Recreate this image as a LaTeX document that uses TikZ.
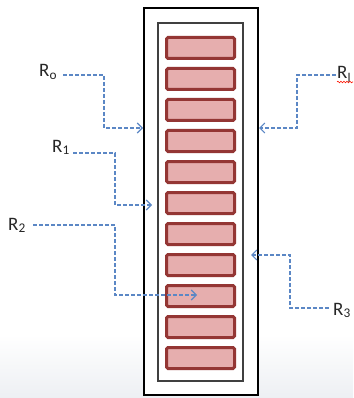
\documentclass[tikz,border=0pt]{standalone}
\usepackage{fontspec}
\setmainfont{Carlito}
\usetikzlibrary{arrows.meta,decorations.pathmorphing}
\definecolor{conncol}{HTML}{5B87C5}
\definecolor{barfill}{HTML}{E6AEAE}
\definecolor{barline}{HTML}{943634}
\definecolor{bandcol}{HTML}{EDEFF3}
\begin{document}
\begin{tikzpicture}[x=1pt,y=-1pt,
  conn/.style={draw=conncol, line width=1.1pt, dash pattern=on 4pt off 2pt,
    -{Straight Barb[length=5pt,width=10pt,line width=1.1pt]}},
  lbl/.style={font=\fontsize{19}{19}\selectfont, inner sep=0pt, text=black!85},
  barbox/.style={draw=barline, fill=barfill, line width=3pt, rounded corners=1.5pt,
    minimum width=68pt, minimum height=21pt, inner sep=0pt},
  outerbox/.style={draw=black, line width=1.2pt, fill=white},
  innerbox/.style={draw=black!75, line width=1.5pt}]
\useasboundingbox (0,0) rectangle (353,398);
% faint background band at the bottom
\shade[top color=white, bottom color=bandcol] (0,335) rectangle (353,398);
% frames
\draw[outerbox] (144,8) rectangle (258,395);
\draw[innerbox] (158,23) rectangle (243,381);
% bars
\foreach \i in {0,...,10}{
  \node[barbox] (b\i) at (200.5,{48+31*\i}) {};
}
% labels
\node[lbl, anchor=base west] (r0) at (39,77) {R\textsubscript{o}};
\node[lbl, anchor=base west] (r1) at (52,152) {R\textsubscript{1}};
\node[lbl, anchor=base west] (r2) at (8,230) {R\textsubscript{2}};
\node[lbl, anchor=base west] (r3) at (333,315) {R\textsubscript{3}};
\node[lbl, anchor=base west] (rl) at (337,79) {R\textsubscript{l}};
\draw[red!85!orange, line width=0.6pt, decorate,
  decoration={snake, amplitude=0.8pt, segment length=3pt}] (337,82) -- (353,82);
% connector start / end points
\coordinate (s0) at (63,75);   \coordinate (t0) at (143,128);
\coordinate (s1) at (73,153);  \coordinate (t1) at (152,205);
\coordinate (s2) at (33,225);  \coordinate (t2) at (197,295);
\coordinate (sl) at (336,75);  \coordinate (tl) at (259,128);
\coordinate (s3) at (329,308); \coordinate (t3) at (251,255);
\draw[conn] (s0) -- (104,75) -- (104,128) -- (t0);
\draw[conn] (s1) -- (115,153) -- (115,205) -- (t1);
\draw[conn] (s2) -- (115,225) -- (115,295) -- (t2);
\draw[conn] (sl) -- (297,75) -- (297,128) -- (tl);
\draw[conn] (s3) -- (290,308) -- (290,255) -- (t3);
\end{tikzpicture}
\end{document}
